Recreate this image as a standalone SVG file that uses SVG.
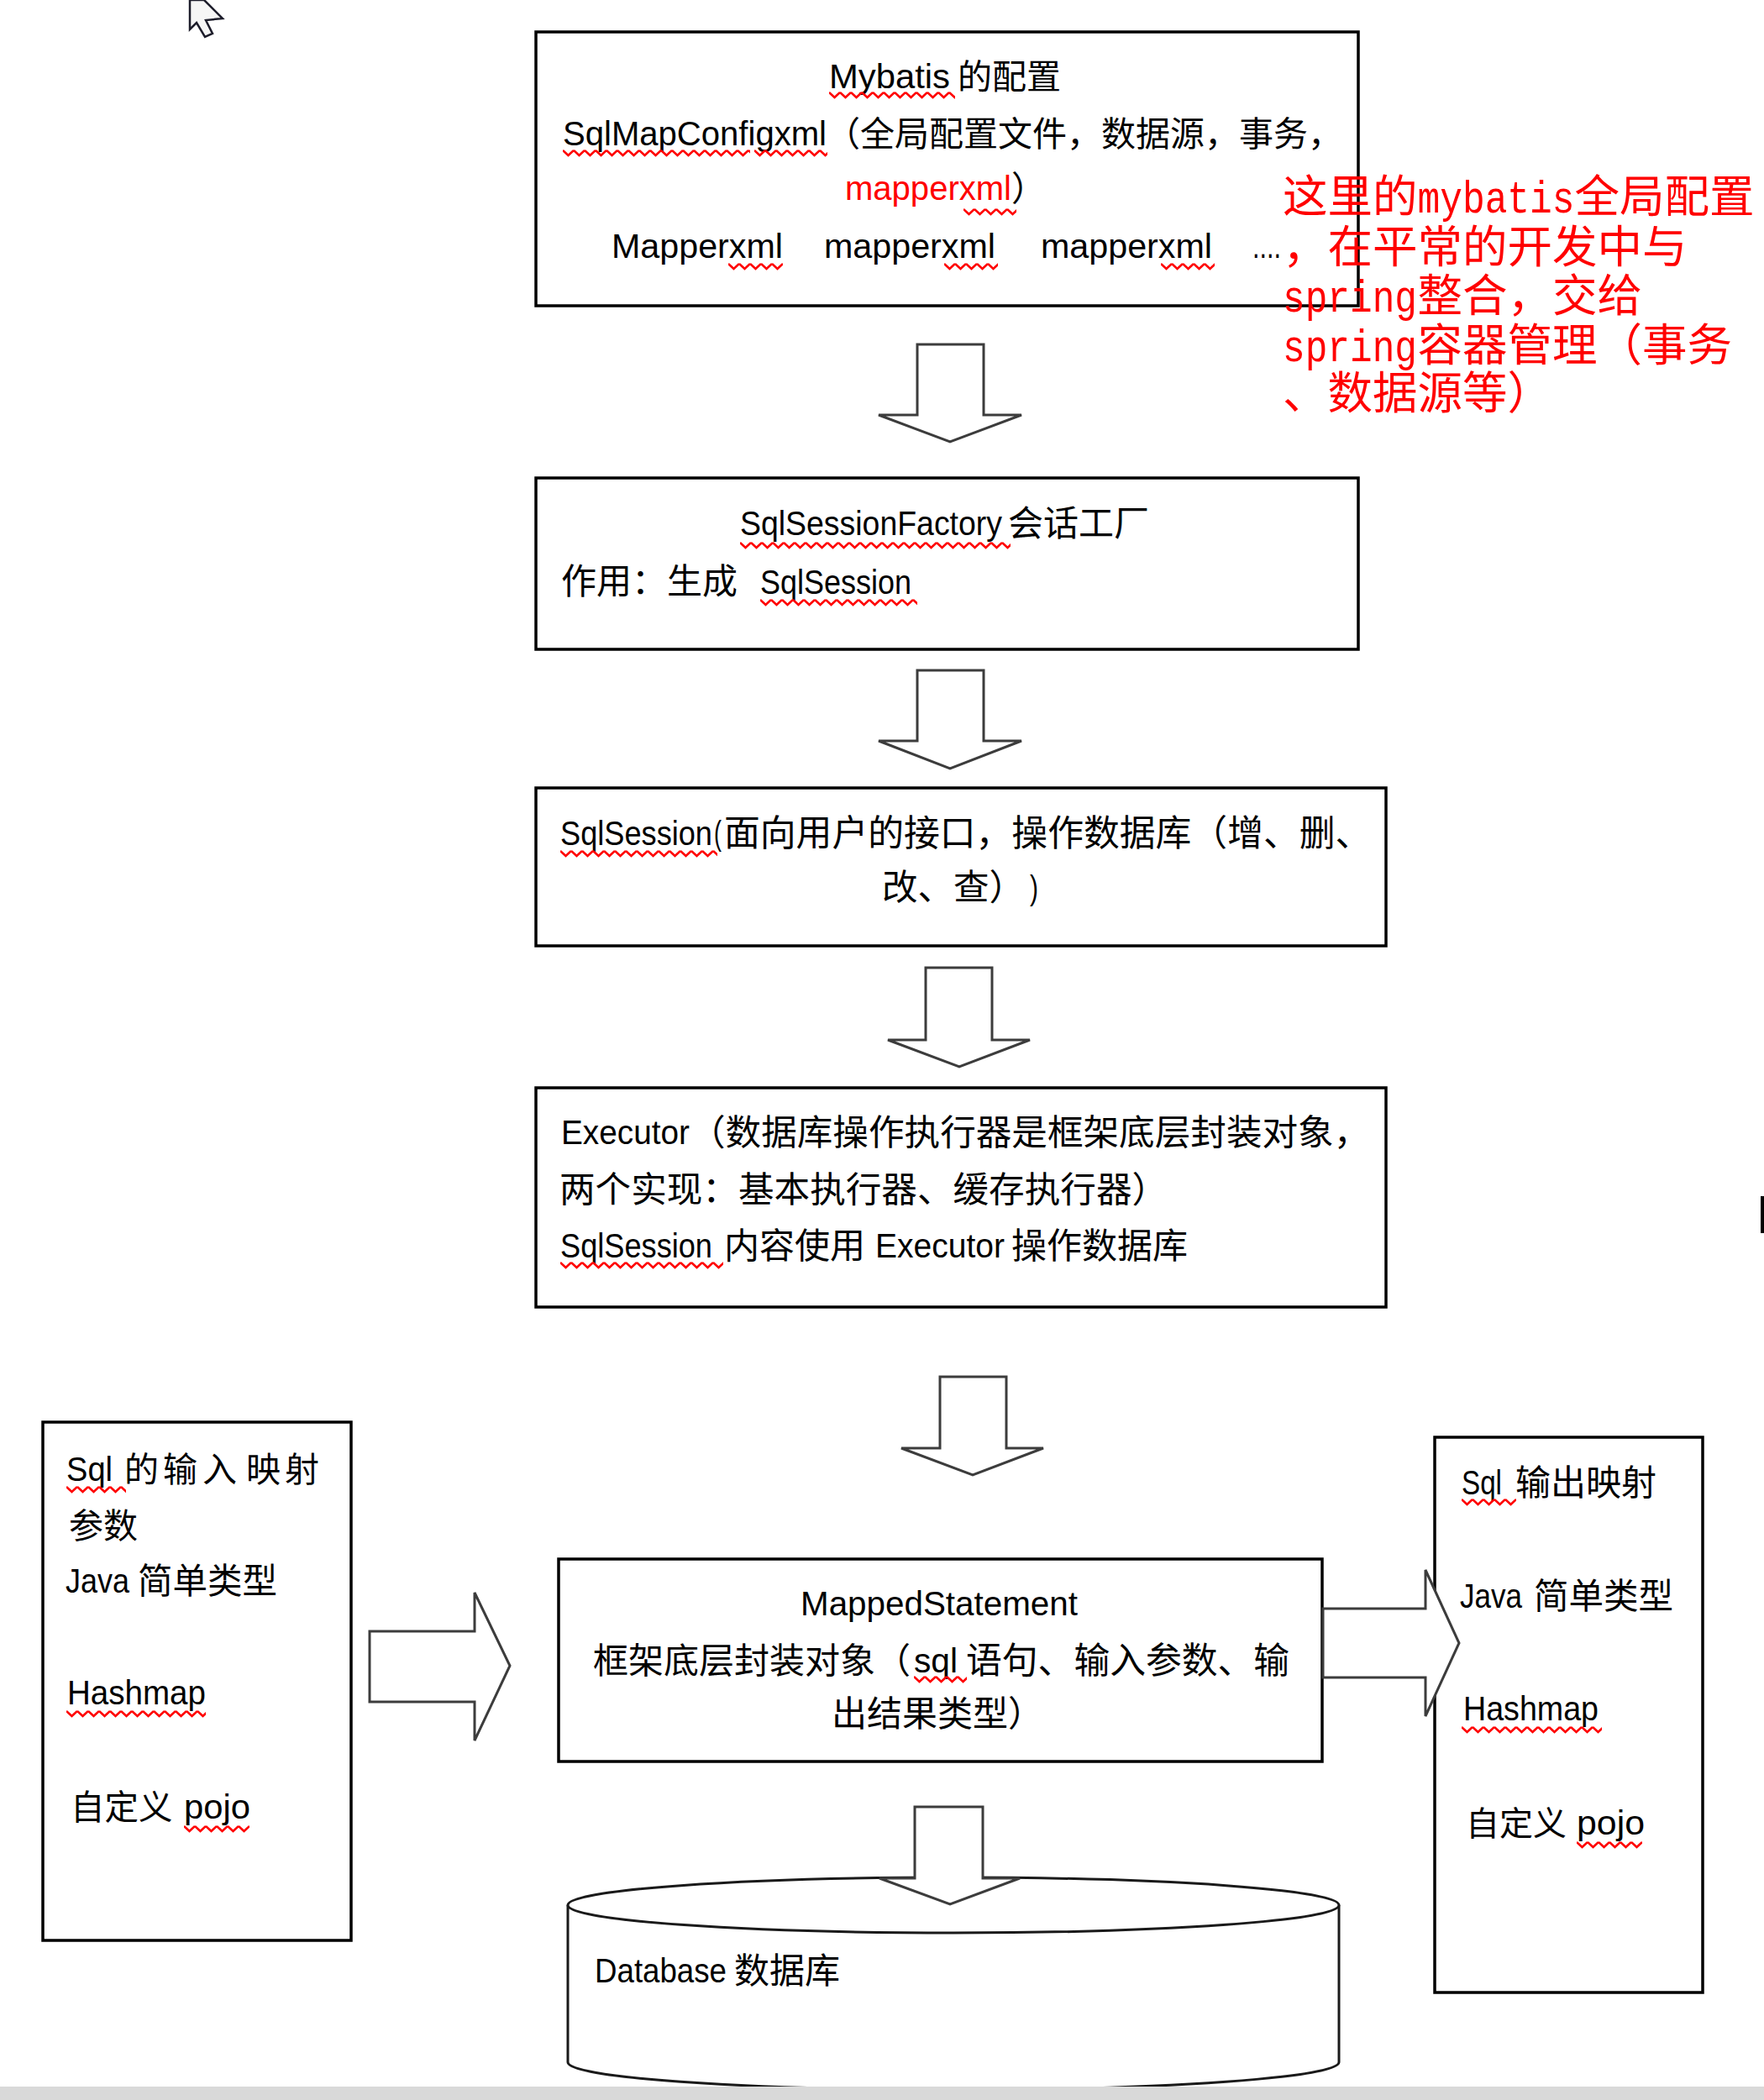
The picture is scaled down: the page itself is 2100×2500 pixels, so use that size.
<svg xmlns="http://www.w3.org/2000/svg" width="2100" height="2500" viewBox="0 0 2100 2500">
<style>
.box{fill:#fff;stroke:#000;stroke-width:3.5}
.arr{fill:#fff;stroke:#3c3c3c;stroke-width:3;stroke-linejoin:miter}
.cj{font-family:"Noto Sans CJK SC","Noto Sans CJK JP",sans-serif;fill:#000}
.la{font-family:"Liberation Sans","Noto Sans CJK SC",sans-serif;font-size:40px;fill:#000}
.an{font-family:"Noto Sans CJK SC",sans-serif;font-size:53.5px;fill:#f00}
.am{font-family:"Liberation Mono","Noto Sans CJK SC",monospace;font-size:53.5px;fill:#f00}
.red{fill:#f00}
</style>
<defs>
<pattern id="sq" width="13" height="10" patternUnits="userSpaceOnUse">
<polyline points="0,2 6.5,8 13,2" fill="none" stroke="#f00" stroke-width="2.6"/>
</pattern>
</defs>
<rect width="2100" height="2500" fill="#fff"/>

<!-- cursor and edge mark -->
<g id="cursor">
<polygon points="226,0 226,35 234,27 244,44 253,40 245,24 265,22 243,0" fill="#f6f6f6" stroke="#1d1d2b" stroke-width="2.5"/>
</g>
<rect x="2096" y="1424" width="4" height="44" fill="#000"/>

<g id="node-config">
<rect class="box" x="638" y="38" width="979" height="326"/>
<text class="la" x="987" y="105" textLength="144" lengthAdjust="spacingAndGlyphs">Mybatis</text>
<text class="cj" x="1140" y="106" font-size="41">的配置</text>
<text class="la" x="670" y="173" textLength="314" lengthAdjust="spacingAndGlyphs">SqlMapConfigxml</text>
<text class="cj" x="983" y="174" font-size="41">（全局配置文件，数据源，事务，</text>
<text class="la red" x="1006" y="238" textLength="198" lengthAdjust="spacingAndGlyphs">mapperxml</text>
<text class="cj" x="1204" y="239" font-size="41">）</text>
<text class="la" x="728" y="307" textLength="204" lengthAdjust="spacingAndGlyphs">Mapperxml</text>
<text class="la" x="981" y="307" textLength="204" lengthAdjust="spacingAndGlyphs">mapperxml</text>
<text class="la" x="1239" y="307" textLength="204" lengthAdjust="spacingAndGlyphs">mapperxml</text>
<text class="la" x="1491" y="307" textLength="34" lengthAdjust="spacingAndGlyphs">....</text>
<rect width="150" height="10" fill="url(#sq)" transform="translate(987,108)"/>
<rect width="223" height="10" fill="url(#sq)" transform="translate(670,177)"/>
<rect width="87" height="10" fill="url(#sq)" transform="translate(898,177)"/>
<rect width="63" height="10" fill="url(#sq)" transform="translate(1147,247)"/>
<rect width="65" height="10" fill="url(#sq)" transform="translate(867,312)"/>
<rect width="64" height="10" fill="url(#sq)" transform="translate(1124,312)"/>
<rect width="64" height="10" fill="url(#sq)" transform="translate(1382,312)"/>
</g>

<g id="note-annotation">
<text class="an" x="1527" y="253">这里的</text>
<text class="am" x="1687.5" y="253" textLength="187" lengthAdjust="spacingAndGlyphs">mybatis</text>
<text class="an" x="1874.5" y="253">全局配置</text>
<text class="an" x="1527" y="313">，在平常的开发中与</text>
<text class="am" x="1527" y="371" textLength="160" lengthAdjust="spacingAndGlyphs">spring</text>
<text class="an" x="1687.5" y="371">整合，交给</text>
<text class="am" x="1527" y="430" textLength="160" lengthAdjust="spacingAndGlyphs">spring</text>
<text class="an" x="1687.5" y="430">容器管理（事务</text>
<text class="an" x="1527" y="487">、数据源等）</text>
</g>

<g id="node-factory">
<rect class="box" x="638" y="569" width="979" height="204"/>
<text class="la" x="881" y="637" textLength="312" lengthAdjust="spacingAndGlyphs">SqlSessionFactory</text>
<text class="cj" x="1200" y="638" font-size="42">会话工厂</text>
<text class="cj" x="668" y="707" font-size="42">作用：生成</text>
<text class="la" x="905" y="707" textLength="180" lengthAdjust="spacingAndGlyphs">SqlSession</text>
<rect width="322" height="10" fill="url(#sq)" transform="translate(881,644)"/>
<rect width="187" height="10" fill="url(#sq)" transform="translate(905,712)"/>
</g>

<g id="node-sqlsession">
<rect class="box" x="638" y="938" width="1012" height="188"/>
<text class="la" x="667" y="1006" textLength="181" lengthAdjust="spacingAndGlyphs">SqlSession</text>
<text class="la" x="850" y="1006" textLength="9" lengthAdjust="spacingAndGlyphs">(</text>
<text class="cj" x="862" y="1007" font-size="42.8">面向用户的接口，操作数据库（增、删、</text>
<text class="cj" x="1050" y="1071" font-size="42.5">改、查）</text>
<text class="la" x="1226" y="1071" textLength="10" lengthAdjust="spacingAndGlyphs">)</text>
<rect width="187" height="10" fill="url(#sq)" transform="translate(667,1011)"/>
</g>

<g id="node-executor">
<rect class="box" x="638" y="1295" width="1012" height="261"/>
<text class="la" x="668" y="1362" textLength="153" lengthAdjust="spacingAndGlyphs">Executor</text>
<text class="cj" x="821" y="1363" font-size="42.6">（数据库操作执行器是框架底层封装对象，</text>
<text class="cj" x="666" y="1431" font-size="42.6">两个实现：基本执行器、缓存执行器）</text>
<text class="la" x="667" y="1497" textLength="181" lengthAdjust="spacingAndGlyphs">SqlSession</text>
<text class="cj" x="862" y="1498" font-size="42">内容使用</text>
<text class="la" x="1042" y="1497" textLength="154" lengthAdjust="spacingAndGlyphs">Executor</text>
<text class="cj" x="1204" y="1498" font-size="42">操作数据库</text>
<rect width="194" height="10" fill="url(#sq)" transform="translate(667,1501)"/>
</g>

<g id="node-input">
<rect class="box" x="51" y="1693" width="367" height="617"/>
<text class="la" x="79" y="1763" textLength="55" lengthAdjust="spacingAndGlyphs">Sql</text>
<text class="cj" x="148 194 241 293 339" y="1764" font-size="41">的输入映射</text>
<text class="cj" x="82" y="1831" font-size="41">参数</text>
<text class="la" x="78" y="1896" textLength="76" lengthAdjust="spacingAndGlyphs">Java</text>
<text class="cj" x="164" y="1897" font-size="41.5">简单类型</text>
<text class="la" x="80" y="2029" textLength="165" lengthAdjust="spacingAndGlyphs">Hashmap</text>
<text class="cj" x="84" y="2166" font-size="40.5">自定义</text>
<text class="la" x="219" y="2165" textLength="79" lengthAdjust="spacingAndGlyphs">pojo</text>
<rect width="71" height="10" fill="url(#sq)" transform="translate(79,1768)"/>
<rect width="166" height="10" fill="url(#sq)" transform="translate(79,2035)"/>
<rect width="78" height="10" fill="url(#sq)" transform="translate(219,2172)"/>
</g>

<g id="node-mapped">
<rect class="box" x="665" y="1856" width="909" height="241"/>
<text class="la" x="953" y="1923" textLength="330" lengthAdjust="spacingAndGlyphs">MappedStatement</text>
<text class="cj" x="706" y="1992" font-size="42">框架底层封装对象（</text>
<text class="la" x="1088" y="1991" textLength="52" lengthAdjust="spacingAndGlyphs">sql</text>
<text class="cj" x="1150" y="1992" font-size="42.8">语句、输入参数、输</text>
<text class="cj" x="990" y="2055" font-size="42">出结果类型）</text>
<rect width="63" height="10" fill="url(#sq)" transform="translate(1088,1994)"/>
</g>

<g id="node-output">
<rect class="box" x="1708" y="1711" width="319" height="661"/>
<text class="la" x="1740" y="1779" textLength="48" lengthAdjust="spacingAndGlyphs">Sql</text>
<text class="cj" x="1804" y="1780" font-size="42">输出映射</text>
<text class="la" x="1738" y="1914" textLength="74" lengthAdjust="spacingAndGlyphs">Java</text>
<text class="cj" x="1826" y="1915" font-size="41.5">简单类型</text>
<text class="la" x="1742" y="2048" textLength="161" lengthAdjust="spacingAndGlyphs">Hashmap</text>
<text class="cj" x="1745" y="2185" font-size="40">自定义</text>
<text class="la" x="1877" y="2184" textLength="81" lengthAdjust="spacingAndGlyphs">pojo</text>
<rect width="65" height="10" fill="url(#sq)" transform="translate(1740,1783)"/>
<rect width="167" height="10" fill="url(#sq)" transform="translate(1740,2054)"/>
<rect width="78" height="10" fill="url(#sq)" transform="translate(1877,2191)"/>
</g>

<g id="node-database">
<path d="M676,2268 L676,2455 A459,33 0 0 0 1594,2455 L1594,2268" fill="#fff" stroke="#1a1a1a" stroke-width="3"/>
<ellipse cx="1135" cy="2268" rx="459" ry="33" fill="#fff" stroke="#1a1a1a" stroke-width="3"/>
<text class="la" x="708" y="2360" textLength="157" lengthAdjust="spacingAndGlyphs">Database</text>
<text class="cj" x="874" y="2361" font-size="42">数据库</text>
</g>

<g id="connectors">
<polygon class="arr" points="1092,410 1171,410 1171,494 1216,494 1131,526 1046,494 1092,494"/>
<polygon class="arr" points="1092,798 1171,798 1171,882 1216,882 1131,915 1046,882 1092,882"/>
<polygon class="arr" points="1102,1152 1181,1152 1181,1238 1226,1238 1142,1270 1057,1238 1102,1238"/>
<polygon class="arr" points="1119,1639 1198,1639 1198,1724 1242,1724 1158,1756 1073,1724 1119,1724"/>
<polygon class="arr" points="440,1942 565,1942 565,1896 607,1983 565,2072 565,2026 440,2026"/>
<polygon class="arr" points="1575,1915 1697,1915 1697,1869 1737,1956 1697,2043 1697,1997 1575,1997"/>
<polygon class="arr" points="1089,2151 1170,2151 1170,2236 1214,2236 1131,2267 1047,2236 1089,2236"/>
</g>

<rect x="0" y="2484" width="2100" height="16" fill="#d9d9d9"/>
</svg>
